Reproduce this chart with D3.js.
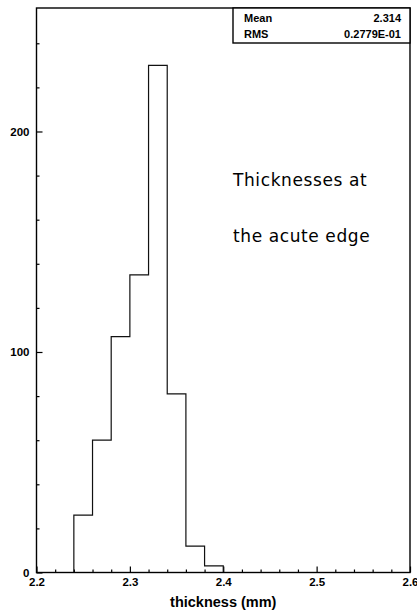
<!DOCTYPE html>
<html>
<head>
<meta charset="utf-8">
<script src="https://cdn.jsdelivr.net/npm/d3@7"></script>
<style>
  body { margin: 0; background: #fff; }
  svg { display: block; }
  .tick text { font-family: "Liberation Sans", Arial, sans-serif; font-weight: bold; font-size: 11.5px; fill: #000; }
  .tick line { stroke: #000; stroke-width: 1.2; }
</style>
</head>
<body>
<div id="chart"></div>
<script>
// Histogram data: lower bin edges and counts
const binStarts = [2.24, 2.26, 2.28, 2.30, 2.32, 2.34, 2.36, 2.38];
const counts = [26, 60, 107, 135, 230, 81, 12, 3];
const binWidth = 0.02;

const xMajorTicks = [2.2, 2.3, 2.4, 2.5, 2.6];
const yMajorTicks = [0, 100, 200];

const statLabels = ["Mean", "RMS"];
const statValues = ["2.314", "0.2779E-01"];
const noteLines = ["Thicknesses at", "the acute edge"];

const width = 417;
const height = 616;
const margin = { top: 8, right: 7, bottom: 43.5, left: 36.5 };
const innerWidth = width - margin.left - margin.right;
const innerHeight = height - margin.top - margin.bottom;

const svg = d3.select('#chart')
    .append('svg')
    .attr('width', width)
    .attr('height', height);

const g = svg.append('g')
    .attr('transform', `translate(${margin.left}, ${margin.top})`);

// Scales
const xScale = d3.scaleLinear()
    .domain([2.2, 2.6])
    .range([0, innerWidth]);

const yScale = d3.scaleLinear()
    .domain([0, 256])
    .range([innerHeight, 0]);

// Minor ticks (no labels)
const xMinor = d3.range(0, 21).map(i => 2.2 + i * 0.02).filter(v => !xMajorTicks.some(m => Math.abs(m - v) < 1e-9));
const yMinor = d3.range(0, 13).map(i => i * 20).filter(v => v % 100 !== 0);

g.append('g')
    .attr('transform', `translate(0,${innerHeight})`)
    .call(d3.axisBottom(xScale).tickValues(xMinor).tickSize(-3).tickFormat(''))
    .call(a => a.select('.domain').remove())
    .call(a => a.selectAll('text').remove());

g.append('g')
    .attr('transform', `translate(0,${innerHeight})`)
    .call(d3.axisBottom(xScale).tickValues(xMajorTicks).tickSize(-6).tickPadding(5).tickFormat(d3.format('.1f')))
    .call(a => a.select('.domain').remove());

g.append('g')
    .call(d3.axisLeft(yScale).tickValues(yMinor).tickSize(-3).tickFormat(''))
    .call(a => a.select('.domain').remove())
    .call(a => a.selectAll('text').remove());

g.append('g')
    .call(d3.axisLeft(yScale).tickValues(yMajorTicks).tickSize(-6).tickPadding(7))
    .call(a => a.select('.domain').remove());

// Histogram outline (step line)
const stepPoints = [[binStarts[0], 0]];
binStarts.forEach((x0, i) => {
    stepPoints.push([x0, counts[i]]);
    stepPoints.push([x0 + binWidth, counts[i]]);
});
stepPoints.push([binStarts[binStarts.length - 1] + binWidth, 0]);

g.append('path')
    .datum(stepPoints)
    .attr('d', d3.line().x(d => xScale(d[0])).y(d => yScale(d[1])))
    .style('fill', 'none')
    .style('stroke', '#111')
    .style('stroke-width', 1.2);

// Frame
g.append('rect')
    .attr('x', 0)
    .attr('y', 0)
    .attr('width', innerWidth)
    .attr('height', innerHeight)
    .style('fill', 'none')
    .style('stroke', '#000')
    .style('stroke-width', 1.4);

// Stats box
const boxX = 233 - margin.left;
const boxW = innerWidth - boxX;
const boxH = 35;
g.append('rect')
    .attr('x', boxX)
    .attr('y', 0)
    .attr('width', boxW)
    .attr('height', boxH)
    .style('fill', '#fff')
    .style('stroke', '#000')
    .style('stroke-width', 1.4);

statLabels.forEach((lab, i) => {
    g.append('text')
        .attr('x', boxX + 11)
        .attr('y', 14 + i * 16)
        .style('font-family', '"Liberation Sans", Arial, sans-serif')
        .style('font-weight', 'bold')
        .style('font-size', '11px')
        .text(lab);
    g.append('text')
        .attr('x', innerWidth - 9)
        .attr('y', 14 + i * 16)
        .attr('text-anchor', 'end')
        .style('font-family', '"Liberation Sans", Arial, sans-serif')
        .style('font-weight', 'bold')
        .style('font-size', '11px')
        .text(statValues[i]);
});

// Annotation text
noteLines.forEach((line, i) => {
    svg.append('text')
        .attr('x', 233)
        .attr('y', 186 + i * 56)
        .style('font-family', '"DejaVu Sans", sans-serif')
        .style('font-size', '17px')
        .style('letter-spacing', '0.6px')
        .text(line);
});

// X axis label
svg.append('text')
    .attr('x', margin.left + innerWidth / 2)
    .attr('y', 607)
    .attr('text-anchor', 'middle')
    .style('font-family', '"Liberation Sans", Arial, sans-serif')
    .style('font-weight', 'bold')
    .style('font-size', '14.5px')
    .text('thickness (mm)');
</script>
</body>
</html>
